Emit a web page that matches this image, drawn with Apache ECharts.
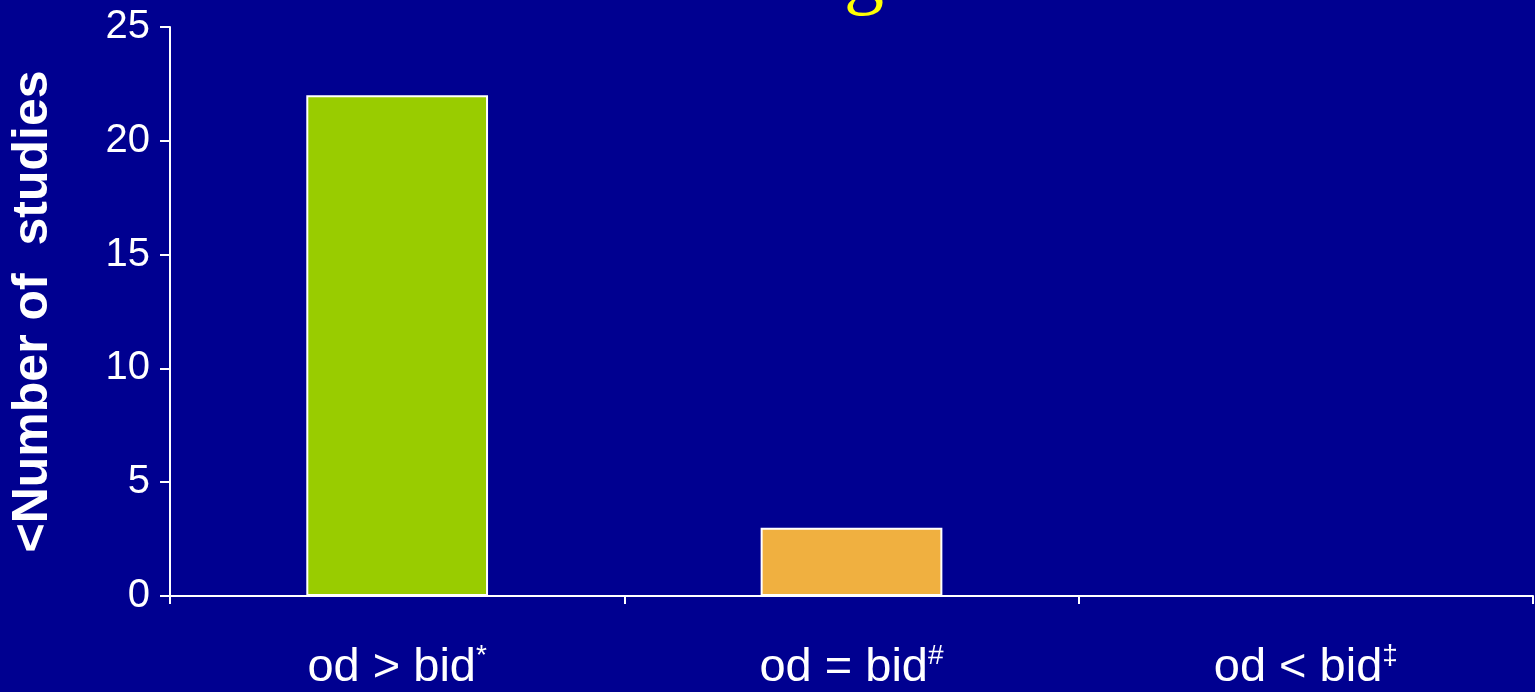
<!DOCTYPE html>
<html>
<head>
<meta charset="utf-8">
<script src="https://cdn.jsdelivr.net/npm/echarts@6/dist/echarts.min.js"></script>
<style>html,body{margin:0;padding:0;background:#000090;}#chart{width:1535px;height:692px;}</style>
</head>
<body>
<div id="chart"></div>
<script>
const categories = ["od > bid{s|*}", "od = bid{s|#}", "od < bid{s|‡}"];
const values = [22, 3, 0];
const barColors = ["#99cc00", "#f0b040", "#ffffff"];

const myChart = echarts.init(document.getElementById("chart"));
const option = {
  backgroundColor: "#000090",
  animation: false,
  graphic: [{
    type: "text", left: 844, top: -62,
    style: { text: "g", fill: "#ffff00", font: "80px 'Liberation Serif'" }
  }],
  grid: { left: 165, right: 2, top: 27, bottom: 96 },
  xAxis: {
    type: "category",
    data: categories,
    axisLine: { lineStyle: { color: "#ffffff", width: 2 } },
    axisTick: { show: true, lineStyle: { color: "#ffffff", width: 2 }, length: 8 },
    axisLabel: {
      margin: 46,
      color: "#ffffff",
      fontSize: 47,
      fontFamily: "Liberation Sans",
      rich: { s: { fontSize: 28, verticalAlign: "top", padding: [0, 0, 24, 0], color: "#ffffff", fontFamily: "Liberation Sans" } }
    }
  },
  yAxis: {
    type: "value",
    min: 0, max: 25, interval: 5,
    name: "<Number of  studies",
    nameLocation: "middle",
    nameGap: 112,
    nameTextStyle: { color: "#ffffff", fontSize: 50, fontWeight: "bold", fontFamily: "Liberation Sans" },
    axisLine: { show: true, lineStyle: { color: "#ffffff", width: 2 } },
    axisTick: { show: true, length: 10, lineStyle: { color: "#ffffff", width: 2 } },
    splitLine: { show: false },
    axisLabel: { color: "#ffffff", fontSize: 40, fontFamily: "Liberation Sans", margin: 20 }
  },
  series: [{
    type: "bar",
    barWidth: "40%",
    data: values.map((v, i) => ({ value: v, itemStyle: { color: barColors[i] } })),
    itemStyle: { borderColor: "#ffffff", borderWidth: 2 }
  }]
};
myChart.setOption(option);
</script>
</body>
</html>
